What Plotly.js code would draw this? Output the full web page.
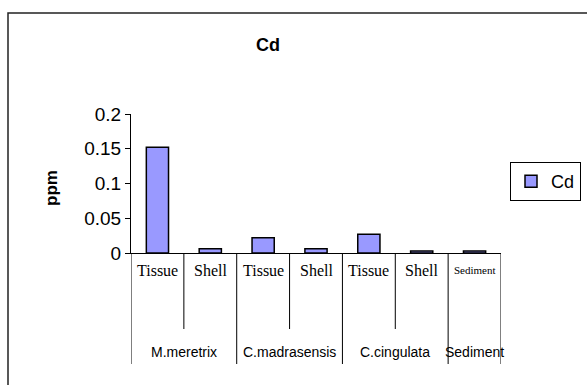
<!DOCTYPE html>
<html><head><meta charset="utf-8">
<script src="https://cdn.plot.ly/plotly-3.0.1.min.js"></script>
<style>html,body{margin:0;padding:0;background:#fff}#chart{width:587px;height:385px}</style>
</head><body><div id="chart"></div>
<script>
const subLabels = ["Tissue","Shell","Tissue","Shell","Tissue","Shell","Sediment"];
const groupLabels = ["M.meretrix","C.madrasensis","C.cingulata","Sediment"];
const groupSpans = [[0,1],[2,3],[4,5],[6,6]];
const cdValues = [0.152,0.006,0.022,0.006,0.027,0.003,0.003];
const yTicks = [0,0.05,0.1,0.15,0.2];
const yTickText = ["0","0.05","0.1","0.15","0.2"];

const W=587,H=385,L=131,R=86,T=114,B=132;
const ph=H-T-B, pw=W-L-R;
const py = px => (H-B-px)/ph;   // pixel y -> paper y
const pxX = px => (px-L)/pw;

const xs = subLabels.map((_,i)=>i);
const shapes=[];
for(let i=0;i<=subLabels.length;i++){
  const isGroupEdge = groupSpans.some(g=>g[0]===i) || i===subLabels.length;
  shapes.push({type:'line',xref:'x',yref:'paper',x0:i-0.5,x1:i-0.5,y0:0,y1:py(isGroupEdge?364:329),
    line:{color:'#000',width:1}});
}
shapes.push({type:'rect',xref:'paper',yref:'paper',x0:pxX(8),x1:pxX(600),y0:py(400),y1:py(13),
  line:{color:'#222',width:1.5},layer:'below'});

const annotations=[];
subLabels.forEach((s,i)=>{
  annotations.push({xref:'x',yref:'paper',x:i,y:py(270),text:s,showarrow:false,
    font:{family:'Liberation Serif',size:s==='Sediment'?11:16,color:'#000'},yanchor:'middle'});
});
groupLabels.forEach((g,k)=>{
  const c=(groupSpans[k][0]+groupSpans[k][1])/2;
  annotations.push({xref:'x',yref:'paper',x:c,y:py(352),text:g,showarrow:false,
    font:{family:'Liberation Sans',size:14,color:'#000'},yanchor:'middle'});
});
annotations.push({xref:'paper',yref:'paper',x:pxX(51),y:py(188),text:'<b>ppm</b>',textangle:-90,showarrow:false,
  xanchor:'center',yanchor:'middle',font:{family:'Liberation Sans',size:17,color:'#000'}});

const data=[{type:'bar',x:xs,y:cdValues,name:'Cd',width:0.42,
  marker:{color:'#9999FF',line:{color:'#000',width:1.5}}}];

const layout={width:W,height:H,margin:{l:L,r:R,t:T,b:B,autoexpand:false},
  paper_bgcolor:'#fff',plot_bgcolor:'#fff',showlegend:true,
  title:{text:'<b>Cd</b>',xref:'container',yref:'container',x:268/W,y:1-45/H,xanchor:'center',yanchor:'middle',
    font:{family:'Liberation Sans',size:18,color:'#000'}},
  xaxis:{range:[-0.5,6.5],showticklabels:false,ticks:'',showgrid:false,zeroline:false,
    showline:true,linecolor:'#000',linewidth:1,fixedrange:true},
  yaxis:{range:[0,0.2],tickvals:yTicks,ticktext:yTickText,ticks:'outside',ticklen:5,tickcolor:'#000',
    showgrid:false,zeroline:false,showline:true,linecolor:'#000',linewidth:1,
    tickfont:{family:'Liberation Sans',size:19,color:'#000'}},
  legend:{x:pxX(581),y:py(162),xanchor:'right',yanchor:'top',bordercolor:'#000',borderwidth:1,itemwidth:30,
    font:{family:'Liberation Sans',size:18,color:'#000'},bgcolor:'#fff'},
  shapes:shapes,annotations:annotations,bargap:0};
Plotly.newPlot('chart',data,layout,{displayModeBar:false,staticPlot:true});
</script></body></html>
